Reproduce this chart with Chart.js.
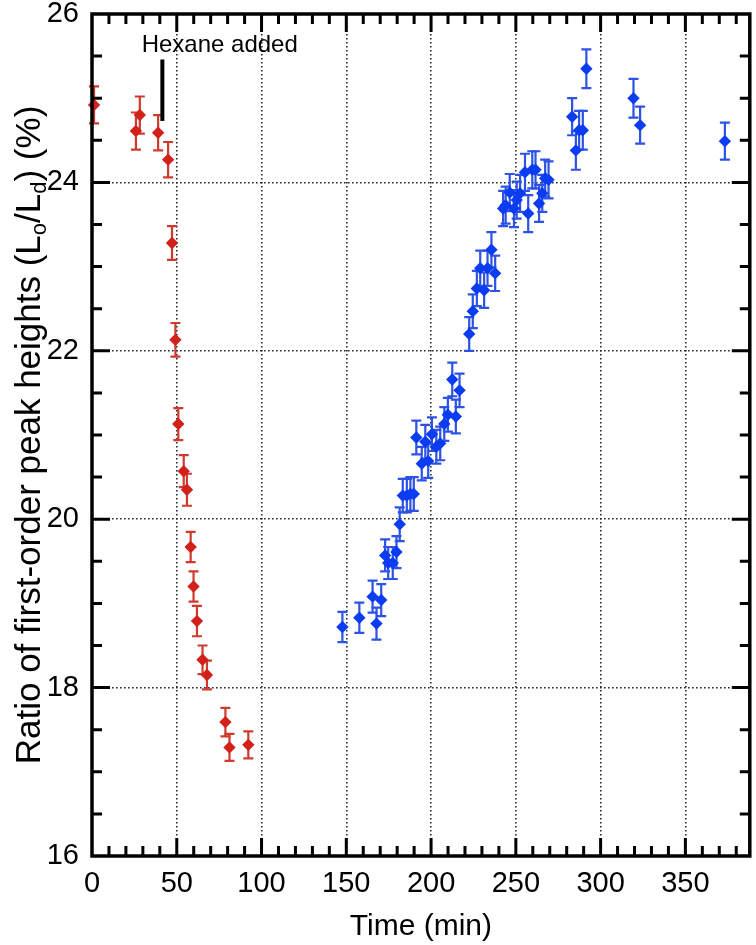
<!DOCTYPE html>
<html>
<head>
<meta charset="utf-8">
<script src="https://cdn.jsdelivr.net/npm/chart.js@4.4.1/dist/chart.umd.min.js"></script>
<style>
  html, body { margin: 0; padding: 0; background: #fff; }
  #wrap { width: 756px; height: 945px; }
</style>
</head>
<body>
<div id="wrap"><canvas id="peakChart"></canvas></div>
<script>
// before hexane (red)
const beforeTime = [1.2, 25.9, 28.2, 39.0, 44.9, 47.2, 49.2, 50.9, 54.1, 56.0, 58.2, 59.9, 61.9, 65.2, 67.8, 78.7, 81.1, 92.2];
const beforeRatio = [24.92, 24.61, 24.80, 24.59, 24.27, 23.28, 22.13, 21.13, 20.57, 20.35, 19.67, 19.20, 18.79, 18.33, 18.15, 17.59, 17.29, 17.32];
const beforeErr = [0.22, 0.22, 0.22, 0.21, 0.21, 0.2, 0.2, 0.19, 0.19, 0.19, 0.18, 0.18, 0.18, 0.17, 0.17, 0.17, 0.16, 0.16];

// after hexane (blue)
const afterTime = [147.7, 157.7, 165.5, 167.8, 170.6, 172.9, 174.7, 177.4, 179.6, 181.5, 183.3, 185.7, 187.8, 189.8,
  191.3, 194.5, 196.6, 198.3, 200.5, 203.1, 205.4, 207.8, 209.9, 212.5, 214.6, 216.8,
  222.5, 224.6, 227.0, 229.0, 231.3, 233.3, 235.6, 237.8,
  242.5, 244.0, 246.4, 248.9, 250.5, 252.5, 255.4, 257.3, 259.7, 261.6, 263.7, 265.6, 267.3, 269.3,
  283.2, 285.4, 287.3, 289.5, 291.6, 319.4, 323.3, 373.3];
const afterRatio = [18.72, 18.83, 19.08, 18.76, 19.04, 19.57, 19.48, 19.48, 19.61, 19.94, 20.28, 20.28, 20.30, 20.30,
  20.97, 20.66, 20.92, 20.69, 21.01, 20.86, 20.90, 21.13, 21.24, 21.66, 21.22, 21.53,
  22.20, 22.47, 22.74, 22.98, 22.72, 22.98, 23.20, 22.92,
  23.69, 23.73, 23.88, 23.69, 23.79, 23.87, 24.12, 23.63, 24.15, 24.15, 23.75, 23.87, 24.05, 24.03,
  24.78, 24.38, 24.62, 24.62, 25.35, 25.00, 24.68, 24.49];
const afterErr = [0.18, 0.18, 0.19, 0.19, 0.19, 0.19, 0.19, 0.19, 0.19, 0.2, 0.2, 0.2, 0.2, 0.2,
  0.2, 0.2, 0.2, 0.2, 0.2, 0.2, 0.2, 0.2, 0.2, 0.2, 0.2, 0.2,
  0.2, 0.2, 0.21, 0.21, 0.21, 0.21, 0.21, 0.21,
  0.21, 0.22, 0.22, 0.22, 0.22, 0.22, 0.22, 0.22, 0.22, 0.22, 0.22, 0.22, 0.22, 0.22,
  0.22, 0.23, 0.23, 0.23, 0.23, 0.23, 0.22, 0.22];

const xTicks = [0, 50, 100, 150, 200, 250, 300, 350];
const yTicks = [16, 18, 20, 22, 24, 26];

// annotation
const hexaneTime = 41.5;
const hexaneLine = [24.73, 25.46];
const hexaneLabel = { x: 29.3, y: 25.55, text: "Hexane added" };

const FONT = "'Liberation Sans', Arial, Helvetica, sans-serif";

const toPoints = (xs, ys) => xs.map((v, i) => ({ x: v, y: ys[i] }));

const errorBars = {
  id: "errorBars",
  beforeDatasetsDraw(chart) {
    const { ctx, scales: { x, y } } = chart;
    chart.data.datasets.forEach((ds) => {
      ctx.save();
      ctx.strokeStyle = ds.errorColor;
      ctx.lineWidth = 2.2;
      ds.data.forEach((p, j) => {
        const px = x.getPixelForValue(p.x);
        const top = y.getPixelForValue(p.y + ds.errors[j]);
        const bot = y.getPixelForValue(p.y - ds.errors[j]);
        ctx.beginPath();
        ctx.moveTo(px, top); ctx.lineTo(px, bot);
        ctx.moveTo(px - 5, top); ctx.lineTo(px + 5, top);
        ctx.moveTo(px - 5, bot); ctx.lineTo(px + 5, bot);
        ctx.stroke();
      });
      ctx.restore();
    });
  },
};

const frame = {
  id: "frame",
  afterDraw(chart) {
    const { ctx, chartArea: a, scales: { x, y } } = chart;
    ctx.save();
    ctx.strokeStyle = "#000";
    ctx.lineWidth = 3.5;
    ctx.strokeRect(a.left, a.top, a.right - a.left, a.bottom - a.top);

    // inward ticks on all four sides
    ctx.lineWidth = 3;
    ctx.beginPath();
    for (let t = 10; t < x.max; t += 10) {
      const px = x.getPixelForValue(t);
      const len = t % 50 === 0 ? 18 : 10;
      ctx.moveTo(px, a.bottom); ctx.lineTo(px, a.bottom - len);
      ctx.moveTo(px, a.top); ctx.lineTo(px, a.top + len);
    }
    for (let v = y.min + 0.5; v < y.max; v += 0.5) {
      const py = y.getPixelForValue(v);
      const len = v % 2 === 0 ? 18 : 10;
      ctx.moveTo(a.left, py); ctx.lineTo(a.left + len, py);
      ctx.moveTo(a.right, py); ctx.lineTo(a.right - len, py);
    }
    ctx.stroke();

    // hexane marker
    const hx = x.getPixelForValue(hexaneTime);
    ctx.lineWidth = 4;
    ctx.beginPath();
    ctx.moveTo(hx, y.getPixelForValue(hexaneLine[0]));
    ctx.lineTo(hx, y.getPixelForValue(hexaneLine[1]));
    ctx.stroke();
    ctx.fillStyle = "#000";
    ctx.font = "24px " + FONT;
    ctx.textAlign = "left";
    ctx.textBaseline = "alphabetic";
    ctx.fillText(hexaneLabel.text, x.getPixelForValue(hexaneLabel.x), y.getPixelForValue(hexaneLabel.y));

    // y title with subscripts
    const parts = [["Ratio of first-order peak heights (L", 0], ["o", 1], ["/L", 0], ["d", 1], [") (%)", 0]];
    const size = 35;
    const big = size + "px " + FONT;
    const small = Math.round(size * 0.62) + "px " + FONT;
    let total = 0;
    parts.forEach(([s, sub]) => { ctx.font = sub ? small : big; total += ctx.measureText(s).width; });
    ctx.translate(30, (a.top + a.bottom) / 2);
    ctx.rotate(-Math.PI / 2);
    ctx.textBaseline = "middle";
    let cx = -total / 2;
    parts.forEach(([s, sub]) => {
      ctx.font = sub ? small : big;
      ctx.fillText(s, cx, sub ? 10 : 0);
      cx += ctx.measureText(s).width;
    });
    ctx.restore();
  },
};

const gridColor = (ctx) => {
  const v = ctx.tick && ctx.tick.value;
  const s = ctx.scale;
  return v === s.min || v === s.max ? "rgba(0,0,0,0)" : "#1e2a30";
};

new Chart(document.getElementById("peakChart"), {
  type: "scatter",
  data: {
    datasets: [
      {
        label: "before hexane",
        data: toPoints(beforeTime, beforeRatio),
        errors: beforeErr,
        errorColor: "#cf3a2e",
        backgroundColor: "#d2201a",
        borderColor: "#d2201a",
        borderWidth: 0,
        pointStyle: "rectRot",
        pointRadius: 6.2,
        clip: false,
      },
      {
        label: "after hexane",
        data: toPoints(afterTime, afterRatio),
        errors: afterErr,
        errorColor: "#2c52e6",
        backgroundColor: "#0b3cf2",
        borderColor: "#0b3cf2",
        borderWidth: 0,
        pointStyle: "rectRot",
        pointRadius: 6.2,
        clip: false,
      },
    ],
  },
  options: {
    responsive: true,
    maintainAspectRatio: false,
    animation: false,
    layout: { padding: { top: 14, right: 4, left: 0, bottom: 0 } },
    plugins: {
      legend: { display: false },
      tooltip: { enabled: false },
    },
    scales: {
      x: {
        type: "linear",
        min: 0,
        max: 388,
        afterBuildTicks: (s) => { s.ticks = xTicks.map((v) => ({ value: v })); },
        afterFit: (s) => { s.height = 89; s.paddingLeft = 0; s.paddingRight = 0; },
        grid: { color: gridColor, lineWidth: 1.6, drawTicks: false },
        border: { display: false, dash: [1.6, 2.4] },
        ticks: { padding: 11, color: "#000", font: { family: FONT, size: 29 }, maxRotation: 0 },
        title: {
          display: true,
          text: "Time (min)",
          color: "#000",
          font: { family: FONT, size: 30 },
          padding: { top: 0, bottom: 0 },
        },
      },
      y: {
        min: 16,
        max: 26,
        afterBuildTicks: (s) => { s.ticks = yTicks.map((v) => ({ value: v })); },
        afterFit: (s) => { s.width = 92; s.paddingTop = 0; s.paddingBottom = 0; },
        grid: { color: gridColor, lineWidth: 1.6, drawTicks: false },
        border: { display: false, dash: [1.6, 2.4] },
        ticks: { padding: 13, color: "#000", font: { family: FONT, size: 29 } },
      },
    },
  },
  plugins: [errorBars, frame],
});
</script>
</body>
</html>
